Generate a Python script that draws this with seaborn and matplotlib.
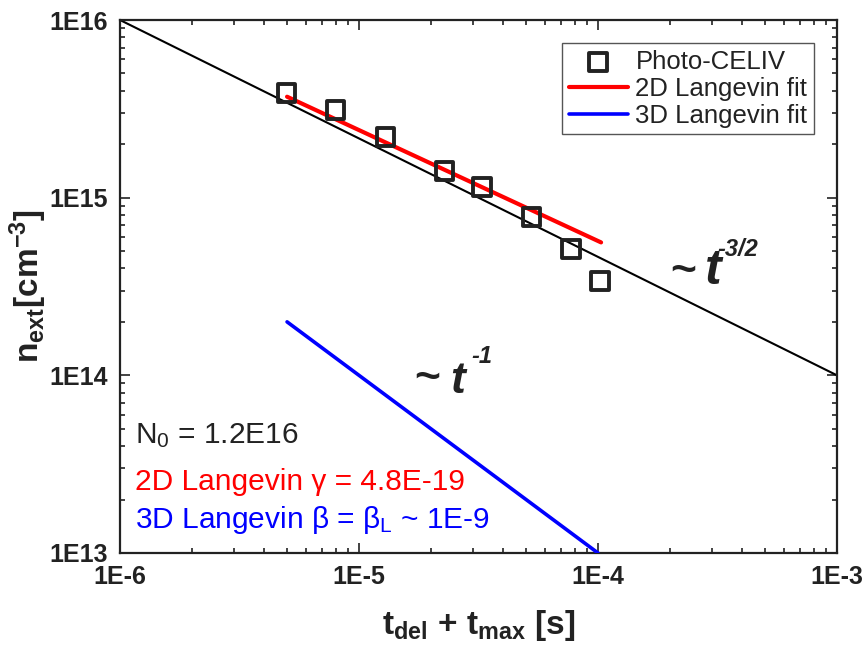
import matplotlib
matplotlib.use("Agg")
import matplotlib.pyplot as plt
import seaborn as sns
from matplotlib.ticker import LogLocator, NullFormatter, FixedLocator

# Photo-CELIV extracted carrier density vs. delay + extraction time
t_celiv = [4.97e-6, 7.97e-6, 1.29e-5, 2.28e-5, 3.28e-5, 5.27e-5, 7.74e-5, 1.02e-4]
n_celiv = [3.90e15, 3.12e15, 2.20e15, 1.42e15, 1.15e15, 7.82e14, 5.12e14, 3.41e14]

# recombination fits
t_fit2d = [5.0e-6, 1.03e-4]
n_fit2d = [3.7e15, 5.6e14]
t_fit3d = [5.0e-6, 1.0e-4]
n_fit3d = [2.0e14, 1.0e13]

# power-law guide line
t_guide = [1e-6, 1e-3]
n_guide = [1e16, 1e14]

x_ticks = [1e-6, 1e-5, 1e-4, 1e-3]
x_ticklabels = ["1E-6", "1E-5", "1E-4", "1E-3"]
y_ticks = [1e13, 1e14, 1e15, 1e16]
y_ticklabels = ["1E13", "1E14", "1E15", "1E16"]

sns.set_theme(style="ticks")
plt.rcParams["font.family"] = ["Liberation Sans", "DejaVu Sans"]
plt.rcParams["mathtext.default"] = "regular"

INK = "#222222"

fig = plt.figure(figsize=(8.68, 6.54), dpi=100)
ax = fig.add_axes([120 / 868, 101 / 654, 717 / 868, 533 / 654])

sns.lineplot(x=t_guide, y=n_guide, ax=ax, color="black", lw=1.5, zorder=2)
sns.lineplot(x=t_fit2d, y=n_fit2d, ax=ax, color="#ff0000", lw=3.0,
             label="2D Langevin fit", zorder=3)
sns.lineplot(x=t_fit3d, y=n_fit3d, ax=ax, color="#0000ff", lw=2.6,
             label="3D Langevin fit", zorder=3)
sns.scatterplot(x=t_celiv, y=n_celiv, ax=ax, marker="s", s=165,
                color=INK, facecolor="none", edgecolor=INK, linewidth=2.8,
                label="Photo-CELIV", zorder=4)

ax.set_xscale("log")
ax.set_yscale("log")
ax.set_xlim(1e-6, 1e-3)
ax.set_ylim(1e13, 1e16)

ax.xaxis.set_major_locator(FixedLocator(x_ticks))
ax.set_xticklabels(x_ticklabels)
ax.yaxis.set_major_locator(FixedLocator(y_ticks))
ax.set_yticklabels(y_ticklabels)
for axis in (ax.xaxis, ax.yaxis):
    axis.set_minor_locator(LogLocator(base=10, subs=range(2, 10), numticks=20))
    axis.set_minor_formatter(NullFormatter())

ax.tick_params(which="both", direction="in", top=True, right=True,
               colors=INK, width=1.2)
ax.tick_params(which="major", length=7, pad=9, labelsize=18)
ax.tick_params(which="minor", length=3.8)
for lab in ax.get_xticklabels() + ax.get_yticklabels():
    lab.set_fontweight("bold")
for sp in ax.spines.values():
    sp.set_linewidth(1.6)
    sp.set_color(INK)

ax.set_xlabel(r"t$_{del}$ + t$_{max}$ [s]", fontsize=24, fontweight="bold",
              color=INK, labelpad=13)
ax.set_ylabel(r"n$_{ext}$[cm$^{-3}$]", fontsize=24, fontweight="bold",
              color=INK, labelpad=0)

# legend in the fixed order: data, 2D fit, 3D fit
handles, labels = ax.get_legend_handles_labels()
order = [labels.index(k) for k in ("Photo-CELIV", "2D Langevin fit", "3D Langevin fit")]
leg = ax.legend([handles[i] for i in order], [labels[i] for i in order],
                loc="upper right", fontsize=18.5, frameon=True, fancybox=False,
                edgecolor="#555555", framealpha=1, borderaxespad=0.9,
                handlelength=2.3, handletextpad=0.3, labelspacing=0.12,
                borderpad=0.25, scatterpoints=1)
leg.get_frame().set_linewidth(1.0)
for txt in leg.get_texts():
    txt.set_color(INK)

# parameter annotations
ax.text(0.021, 0.206, r"N$_0$ = 1.2E16", transform=ax.transAxes,
        fontsize=21.5, color=INK, va="baseline")
ax.text(0.021, 0.118, "2D Langevin γ = 4.8E-19", transform=ax.transAxes,
        fontsize=21.5, color="#ff0000", va="baseline")
ax.text(0.021, 0.047, r"3D Langevin β = β$_L$ ~ 1E-9", transform=ax.transAxes,
        fontsize=21.5, color="#0000ff", va="baseline")

# power-law slope labels
bi = dict(fontweight="bold", fontstyle="italic", color=INK, transform=ax.transAxes,
          va="baseline")
ax.text(0.785, 0.528, "~", ha="center", va="center", fontsize=32,
        fontweight="bold", color=INK, transform=ax.transAxes)
ax.text(0.816, 0.505, "t", fontsize=36, **bi)
ax.text(0.833, 0.557, "-3/2", fontsize=17, **bi)

ax.text(0.428, 0.327, "~", ha="center", va="center", fontsize=32,
        fontweight="bold", color=INK, transform=ax.transAxes)
ax.text(0.460, 0.300, "t", fontsize=32, **bi)
ax.text(0.490, 0.356, "-1", fontsize=17, **bi)

fig.savefig("out.png", dpi=100)
